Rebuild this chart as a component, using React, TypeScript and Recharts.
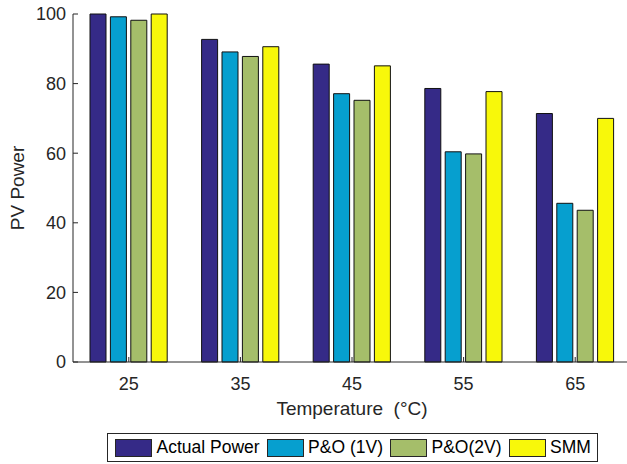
import { BarChart, Bar, XAxis, YAxis, Label } from 'recharts';

const temperatures = ['25', '35', '45', '55', '65'];
const actualPower = [100, 92.7, 85.6, 78.6, 71.4];
const po1V = [99.2, 89.1, 77.1, 60.4, 45.6];
const po2V = [98.2, 87.8, 75.2, 59.8, 43.6];
const smm = [100, 90.6, 85.1, 77.7, 70.0];
const yTicks = [0, 20, 40, 60, 80, 100];

const SERIES = [
  { key: 'actual', name: 'Actual Power', color: '#352A87', values: actualPower },
  { key: 'po1', name: 'P&O (1V)', color: '#069FCF', values: po1V },
  { key: 'po2', name: 'P&O(2V)', color: '#A5BE6A', values: po2V },
  { key: 'smm', name: 'SMM', color: '#F8F80A', values: smm },
];

const data = temperatures.map((t, i) => {
  const row: Record<string, string | number> = { temp: t };
  SERIES.forEach((s) => {
    row[s.key] = s.values[i];
  });
  return row;
});

const FONT = '"Liberation Sans", Arial, Helvetica, sans-serif';
const AXIS = '#262626';

function ChartLegend() {
  return (
    <div
      style={{
        position: 'absolute',
        left: 107,
        top: 433,
        width: 491,
        height: 29,
        border: `1px solid ${AXIS}`,
        display: 'flex',
        alignItems: 'center',
        paddingLeft: 7,
        boxSizing: 'border-box',
        fontFamily: FONT,
        fontSize: 17.5,
        color: '#000',
        background: '#fff',
      }}
    >
      {SERIES.map((s) => (
        <div key={s.key} style={{ display: 'flex', alignItems: 'center', marginRight: 7 }}>
          <div
            style={{
              width: 37,
              height: 18,
              background: s.color,
              border: `1px solid ${AXIS}`,
              boxSizing: 'border-box',
              marginRight: 4.5,
            }}
          />
          <span style={{ whiteSpace: 'pre' }}>{s.name}</span>
        </div>
      ))}
    </div>
  );
}

export default function App() {
  return (
    <div
      style={{
        position: 'fixed',
        left: 0,
        top: 0,
        width: 627,
        height: 464,
        overflow: 'hidden',
        background: '#fff',
      }}
    >
      <BarChart
        width={640}
        height={464}
        data={data}
        margin={{ top: 14, right: 9, bottom: 42, left: 0 }}
        barCategoryGap={17}
        barGap={4.4}
      >
        <XAxis
          dataKey="temp"
          height={60}
          tickSize={-5}
          tickMargin={20}
          stroke={AXIS}
          tick={{ fill: AXIS, fontSize: 18, fontFamily: FONT }}
        >
          <Label
            value={'Temperature\u00A0 (°C)'}
            position="insideBottom"
            offset={7}
            style={{ fill: AXIS, fontSize: 19, fontFamily: FONT }}
          />
        </XAxis>
        <XAxis
          xAxisId="top"
          dataKey="temp"
          orientation="top"
          height={0}
          tickSize={-5}
          tick={false}
          stroke={AXIS}
        />
        <YAxis
          width={73}
          domain={[0, 100]}
          ticks={yTicks}
          tickSize={-5}
          tickMargin={12}
          stroke={AXIS}
          tick={{ fill: AXIS, fontSize: 18, fontFamily: FONT }}
        >
          <Label
            value="PV Power"
            angle={-90}
            position="insideLeft"
            offset={17.5}
            style={{ fill: AXIS, fontSize: 19, fontFamily: FONT, textAnchor: 'middle' }}
          />
        </YAxis>
        <YAxis
          yAxisId="right"
          orientation="right"
          width={0}
          domain={[0, 100]}
          ticks={yTicks}
          tickSize={-5}
          tick={false}
          stroke={AXIS}
        />
        {SERIES.map((s) => (
          <Bar
            key={s.key}
            dataKey={s.key}
            name={s.name}
            fill={s.color}
            stroke="#111"
            strokeWidth={1}
            isAnimationActive={false}
          />
        ))}
      </BarChart>
      <ChartLegend />
    </div>
  );
}
